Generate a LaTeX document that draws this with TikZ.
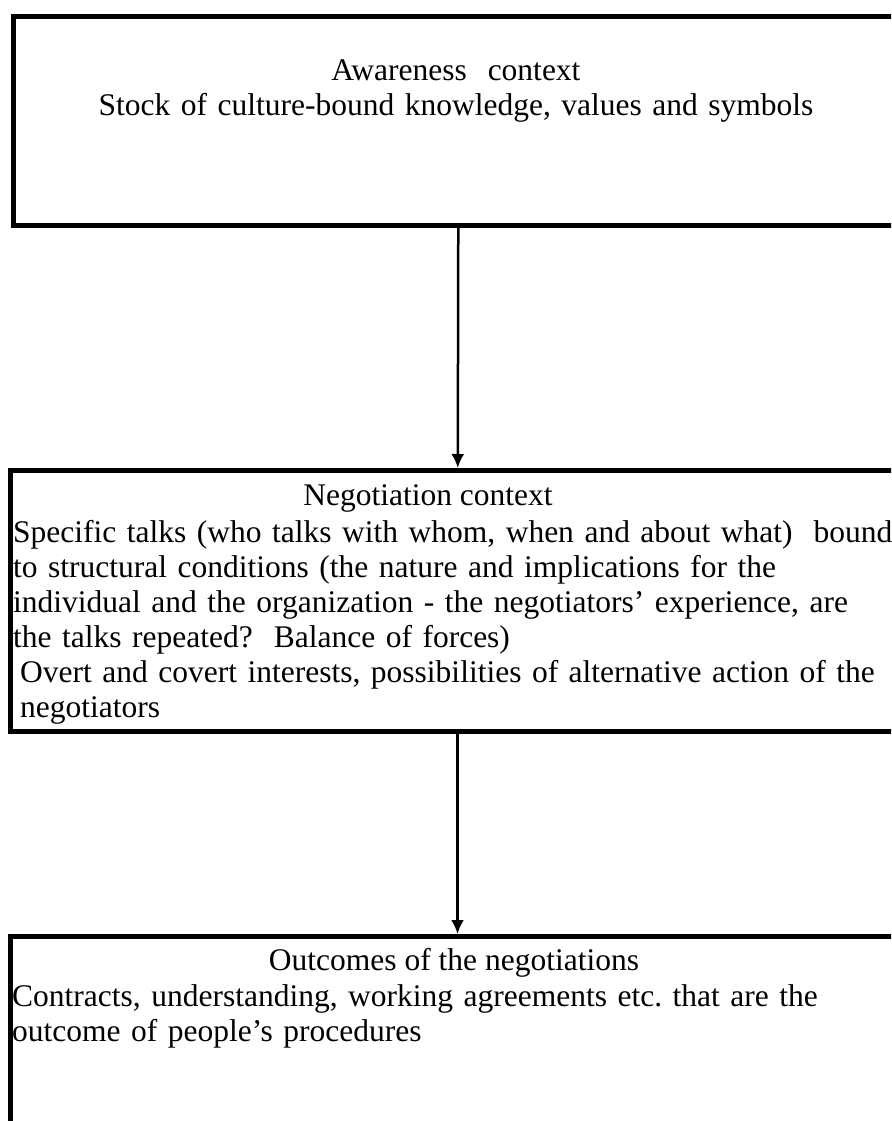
\documentclass[tikz,border=0pt]{standalone}
\usepackage{fontspec}
\setmainfont{Liberation Serif}
\usepackage{tikz}
\usetikzlibrary{arrows.meta}
\frenchspacing

\begin{document}
\begin{tikzpicture}[->,>={Latex[length=14pt,width=13pt]},x=1pt,y=-1pt,
  box node/.style={draw,line width=5pt,inner sep=0pt,anchor=north west},
  text node/.style={inner sep=0pt,font=\fontsize{31.5pt}{35pt}\selectfont}]

  \useasboundingbox (0,0) rectangle (891,1121);
  \clip (0,0) rectangle (891,1121);

  \node[box node,minimum width=890pt,minimum height=209pt] (aware) at (11,14) {};
  \node[box node,minimum width=894pt,minimum height=261pt] (nego) at (8,468) {};
  \node[box node,minimum width=894pt,minimum height=230pt] (outc) at (8,934) {};

  \node[text node,anchor=base,text width=860pt,align=center] (awaretxt) at (456,81)
    {Awareness\ \ context\\Stock of culture-bound knowledge, values and symbols};
  \node[text node,anchor=base] (negotitle) at (428,505) {Negotiation context};
  \node[text node,anchor=base west,text width=920pt,align=left] (negotxt) at (13,542)
    {Specific talks (who talks with whom, when and about what)\ \ bound\\
     to structural conditions (the nature and implications for the\\
     individual and the organization - the negotiators’ experience, are\\
     the talks repeated?\ \ Balance of forces)\\
     \hspace*{7pt}Overt and covert interests, possibilities of alternative action of the\\
     \hspace*{7pt}negotiators};
  \node[text node,anchor=base] (outctitle) at (454,970) {Outcomes of the negotiations};
  \node[text node,anchor=base west,text width=920pt,align=left] (outctxt) at (12,1006)
    {Contracts, understanding, working agreements etc. that are the\\
     outcome of people’s procedures};

  \path[line width=2.5pt]
    (aware) edge (nego)
    (nego) edge (outc);
\end{tikzpicture}
\end{document}
